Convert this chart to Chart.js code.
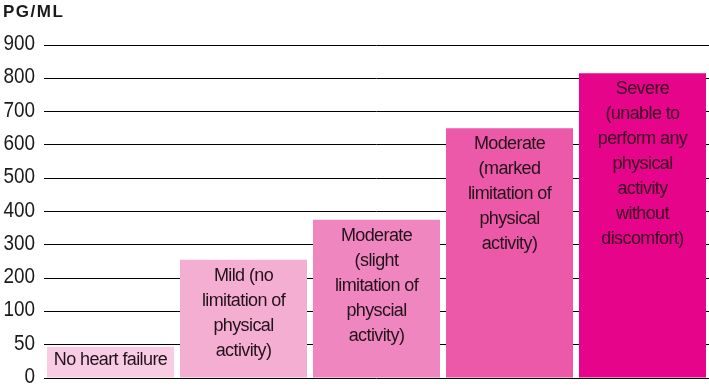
<!DOCTYPE html>
<html>
<head>
<meta charset="utf-8">
<script src="https://cdn.jsdelivr.net/npm/chart.js@4.4.1/dist/chart.umd.min.js"></script>
<style>
    html, body { margin: 0; padding: 0; background: #fff; }
    #wrap { position: relative; width: 709px; height: 387px; }
</style>
</head>
<body>
<div id="wrap"><canvas id="chart"></canvas></div>
<script>
/* ===== BNP by heart failure severity ===== */

const categories = ['No heart failure', 'Mild', 'Moderate (slight)', 'Moderate (marked)', 'Severe'];
const barLabels = [
    ['No heart failure'],
    ['Mild (no', 'limitation of', 'physical', 'activity)'],
    ['Moderate', '(slight', 'limitation of', 'physcial', 'activity)'],
    ['Moderate', '(marked', 'limitation of', 'physical', 'activity)'],
    ['Severe', '(unable to', 'perform any', 'physical', 'activity', 'without', 'discomfort)']
];
const values = [47, 255, 375, 650, 815];
const barColors = ['#f8cde3', '#f4aed2', '#f086bf', '#ec59a8', '#e6048a'];
const yTicks = [0, 50, 100, 200, 300, 400, 500, 600, 700, 800, 900];

const FONT = "'Liberation Sans', Arial, sans-serif";

// Axis in the original is not linear: 0-50 and 50-100 get the same room as each 100 step
function tickPos(v) {
    for (let i = 1; i < yTicks.length; i++) {
        if (v <= yTicks[i]) {
            const lo = yTicks[i - 1], hi = yTicks[i];
            return (i - 1) + (v - lo) / (hi - lo);
        }
    }
    return yTicks.length - 1;
}

class StepScale extends Chart.LinearScale {
    buildTicks() {
        return yTicks.map(v => ({ value: v }));
    }
    getPixelForValue(value) {
        if (value === null || value === undefined) return NaN;
        return this.getPixelForDecimal(tickPos(value) / (yTicks.length - 1));
    }
    getValueForPixel(pixel) {
        const d = this.getDecimalForPixel(pixel) * (yTicks.length - 1);
        const i = Math.min(Math.floor(d), yTicks.length - 2);
        return yTicks[i] + (d - i) * (yTicks[i + 1] - yTicks[i]);
    }
}
StepScale.id = 'step';
StepScale.defaults = Chart.LinearScale.defaults;
Chart.register(StepScale);

// tick numbers are a narrow face in the original, squeeze them horizontally
const TICK_SQUEEZE = 0.86;
const tickTextPlugin = {
    id: 'tickText',
    afterDraw(chart) {
        const ctx = chart.ctx;
        const y = chart.scales.y;
        ctx.save();
        ctx.font = '22px ' + FONT;
        ctx.fillStyle = '#1a1a1a';
        ctx.textAlign = 'right';
        ctx.textBaseline = 'middle';
        ctx.scale(TICK_SQUEEZE, 1);
        yTicks.forEach(v => {
            ctx.fillText(String(v), 35 / TICK_SQUEEZE, y.getPixelForValue(v) - 1);
        });
        ctx.restore();
    }
};

const barTextPlugin = {
    id: 'barText',
    afterDatasetsDraw(chart) {
        const ctx = chart.ctx;
        const meta = chart.getDatasetMeta(0);
        ctx.save();
        ctx.font = '18px ' + FONT;
        ctx.letterSpacing = '-0.6px';
        ctx.textAlign = 'center';
        ctx.textBaseline = 'middle';
        meta.data.forEach((bar, i) => {
            ctx.fillStyle = i === 4 ? '#3a0622' : '#24121b';
            const first = i === 0 ? 13 : 16;
            barLabels[i].forEach((line, j) => {
                ctx.fillText(line, bar.x, bar.y + first + j * 25);
            });
        });
        ctx.restore();
    }
};

const unitPlugin = {
    id: 'unitLabel',
    afterDraw(chart) {
        const ctx = chart.ctx;
        ctx.save();
        ctx.font = 'bold 17px ' + FONT;
        ctx.letterSpacing = '1.5px';
        ctx.fillStyle = '#1a1a1a';
        ctx.textAlign = 'left';
        ctx.textBaseline = 'middle';
        ctx.fillText('PG/ML', 3, 12);
        ctx.restore();
    }
};

new Chart(document.getElementById('chart'), {
    type: 'bar',
    data: {
        labels: categories,
        datasets: [{
            data: values,
            backgroundColor: barColors,
            borderWidth: 0,
            categoryPercentage: 1,
            barPercentage: 0.955
        }]
    },
    options: {
        responsive: true,
        maintainAspectRatio: false,
        animation: false,
        layout: { padding: { top: 45, bottom: 9, left: 0, right: 0 } },
        plugins: {
            legend: { display: false },
            tooltip: { enabled: false }
        },
        scales: {
            x: { display: false },
            y: {
                type: 'step',
                min: 0,
                max: 900,
                border: { display: false },
                grid: { color: '#000', lineWidth: 1, drawTicks: false },
                ticks: { display: false, autoSkip: false },
                afterFit: (scale) => {
                    scale.width = 44;
                    scale.paddingTop = 0;
                    scale.paddingBottom = 0;
                }
            }
        }
    },
    plugins: [barTextPlugin, tickTextPlugin, unitPlugin]
});
</script>
</body>
</html>
